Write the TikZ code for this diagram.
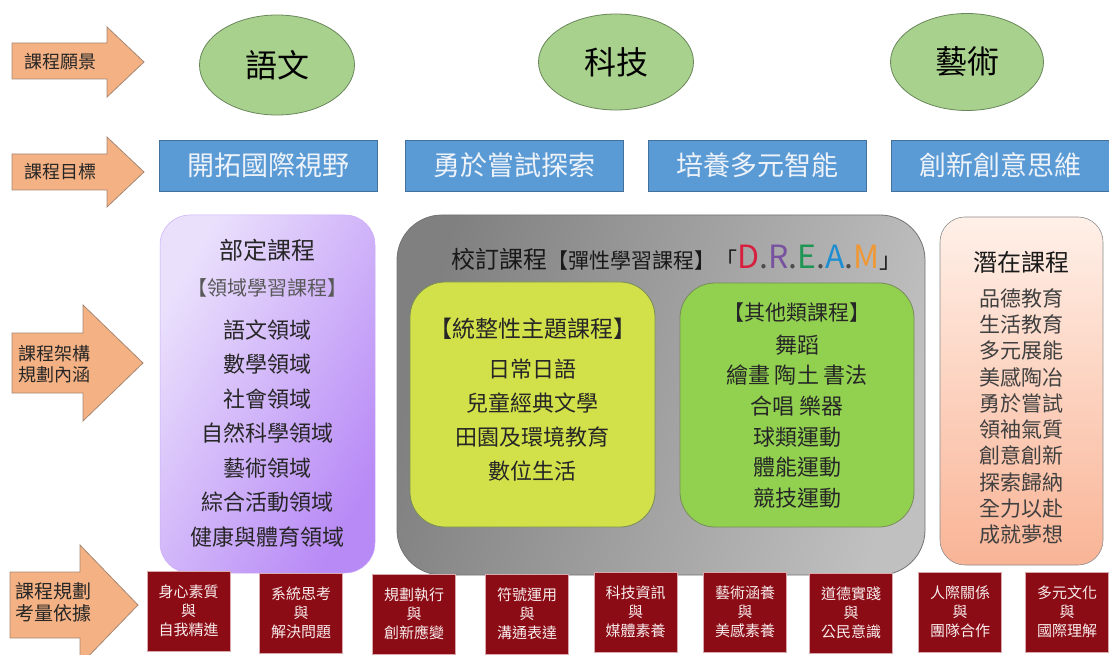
\documentclass[tikz,border=0pt]{standalone}
\usepackage{fontspec}
\setmainfont{Noto Sans CJK TC}
\usetikzlibrary{shapes.geometric}

\newcommand{\fsz}[2]{\fontsize{#1}{#2}\selectfont}

\definecolor{arrowfill}{RGB}{244,177,131}
\definecolor{arrowline}{RGB}{165,135,115}
\definecolor{visionfill}{RGB}{169,209,142}
\definecolor{visionline}{RGB}{105,135,90}
\definecolor{goalfill}{RGB}{91,155,213}
\definecolor{goalline}{RGB}{65,113,156}
\definecolor{goaltext}{RGB}{238,243,250}
\definecolor{corelight}{RGB}{234,224,252}
\definecolor{coredark}{RGB}{184,138,246}
\definecolor{schooldark}{RGB}{128,128,128}
\definecolor{schoollight}{RGB}{192,192,192}
\definecolor{themefill}{RGB}{210,224,74}
\definecolor{otherfill}{RGB}{146,208,80}
\definecolor{innerline}{RGB}{120,140,90}
\definecolor{hiddenlight}{RGB}{255,240,232}
\definecolor{hiddendark}{RGB}{249,180,150}
\definecolor{basisfill}{RGB}{140,12,22}
\definecolor{basistext}{RGB}{248,236,236}
\definecolor{dreamD}{RGB}{214,32,62}
\definecolor{dreamR}{RGB}{120,82,160}
\definecolor{dreamE}{RGB}{28,150,82}
\definecolor{dreamA}{RGB}{30,142,210}
\definecolor{dreamM}{RGB}{240,152,52}

\tikzset{
  stagearrow/.style={draw=arrowline, fill=arrowfill, line width=0.8pt},
  stagetext/.style={font=\fsz{18}{21}, align=center, text=black!85},
  vision/.style={ellipse, draw=visionline, fill=visionfill, line width=0.8pt, inner sep=0pt, font=\fsz{32}{36}},
  goal/.style={draw=goalline, fill=goalfill, minimum width=218pt, minimum height=51pt, inner sep=0pt, font=\fsz{27}{30}, text=goaltext},
  listtext/.style={align=center, text=black!85},
  basis/.style={draw=basistext!70!basisfill, fill=basisfill, minimum width=83pt, minimum height=80pt, inner sep=0pt, align=center, font=\fsz{15}{19}, text=basistext}
}

\begin{document}
\begin{tikzpicture}[x=1pt, y=-1pt]
    \useasboundingbox (0,0) rectangle (1109,655);

    % Stage arrows
    \draw[stagearrow] (12,43) -- (107,43) -- (107,27) -- (144,62) -- (107,97) -- (107,79) -- (12,79) -- cycle;
    \draw[stagearrow] (12,154) -- (107,154) -- (107,137) -- (144,172) -- (107,207) -- (107,190) -- (12,190) -- cycle;
    \draw[stagearrow] (12,333) -- (83,333) -- (83,305) -- (143,363) -- (83,421) -- (83,393) -- (12,393) -- cycle;
    \draw[stagearrow] (10,572) -- (80,572) -- (80,545) -- (138,605) -- (80,665) -- (80,638) -- (10,638) -- cycle;
    \node[stagetext] (vision) at (60,62) {課程願景};
    \node[stagetext] (goals) at (60,172) {課程目標};
    \node[stagetext] (frame) at (55,364) {課程架構\\規劃內涵};
    \node[stagetext, font=\fsz{19}{22}] (basis) at (54,602) {課程規劃\\考量依據};

    % Vision
    \node[vision, minimum width=155pt, minimum height=100pt] (lang) at (277,65) {語文};
    \node[vision, minimum width=155pt, minimum height=96pt] (tech) at (616,62) {科技};
    \node[vision, minimum width=153pt, minimum height=97pt] (arts) at (967,62) {藝術};

    % Goals
    \node[goal] (global) at (268.5,165.5) {開拓國際視野};
    \node[goal] (explore) at (514,165.5) {勇於嘗試探索};
    \node[goal] (multi) at (757,165.5) {培養多元智能};
    \node[goal] (create) at (1000,165.5) {創新創意思維};

    % Curriculum frame
    \node[draw=coredark!60!corelight, line width=0.5pt, rounded corners=30pt, minimum width=215pt, minimum height=358pt,
      left color=corelight, right color=coredark, shading angle=60] (core) at (267.5,394) {};
    \node[font=\fsz{24}{28}, text=black!85] (coreTitle) at (267.5,250) {部定課程};
    \node[font=\fsz{20}{24}, text=black!65] (coreSub) at (267.5,288) {【領域學習課程】};
    \node[listtext, font=\fsz{22}{34.5}] (coreList) at (267.5,433.5)
      {語文領域\\數學領域\\社會領域\\自然科學領域\\藝術領域\\綜合活動領域\\健康與體育領域};

    \node[draw=black!55, line width=0.8pt, rounded corners=45pt, minimum width=528pt, minimum height=360pt,
      left color=schooldark, right color=schoollight, shading angle=75] (school) at (661,395) {};
    \node[anchor=west, font=\fsz{24}{28}, text=black!90] (schoolTitle) at (448,258)
      {校訂課程{\fsz{21}{24}【彈性學習課程】}{\fsz{22}{24}「}{\fsz{32}{34}\color{dreamD}D\color{black!70}.\color{dreamR}R\color{black!70}.\color{dreamE}E\color{black!70}.\color{dreamA}A\color{black!70}.\color{dreamM}M}{\fsz{22}{24}」}};

    \node[draw=innerline, fill=themefill, line width=0.8pt, rounded corners=35pt, minimum width=245pt, minimum height=245pt] (theme) at (532.5,404.5) {};
    \node[font=\fsz{23}{26}, text=black!85] (themeTitle) at (532.5,329) {【統整性主題課程】};
    \node[listtext, font=\fsz{22}{34}] (themeList) at (532.5,420) {日常日語\\兒童經典文學\\田園及環境教育\\數位生活};

    \node[draw=innerline, fill=otherfill, line width=0.8pt, rounded corners=35pt, minimum width=234pt, minimum height=244pt] (other) at (797,405) {};
    \node[font=\fsz{21}{24}, text=black!85] (otherTitle) at (797,313) {【其他類課程】};
    \node[listtext, font=\fsz{22}{30.6}] (otherList) at (797,421.5) {舞蹈\\繪畫 陶土 書法\\合唱 樂器\\球類運動\\體能運動\\競技運動};

    \node[draw=black!45, line width=0.6pt, rounded corners=25pt, minimum width=163pt, minimum height=348pt,
      top color=hiddenlight, bottom color=hiddendark] (hidden) at (1021.5,391) {};
    \node[font=\fsz{24}{28}, text=black!90] (hiddenTitle) at (1021.5,262) {潛在課程};
    \node[listtext, font=\fsz{21}{26.3}, text=black!75] (hiddenList) at (1021.5,416.5)
      {品德教育\\生活教育\\多元展能\\美感陶冶\\勇於嘗試\\領袖氣質\\創意創新\\探索歸納\\全力以赴\\成就夢想};

    % Planning basis
    \node[basis] (b1) at (188.5,611) {身心素質\\與\\自我精進};
    \node[basis] (b2) at (301,613) {系統思考\\與\\解決問題};
    \node[basis] (b3) at (414,614) {規劃執行\\與\\創新應變};
    \node[basis] (b4) at (527,614) {符號運用\\與\\溝通表達};
    \node[basis] (b5) at (635.5,612) {科技資訊\\與\\媒體素養};
    \node[basis] (b6) at (745,612) {藝術涵養\\與\\美感素養};
    \node[basis] (b7) at (851,613) {道德實踐\\與\\公民意識};
    \node[basis] (b8) at (960,612) {人際關係\\與\\團隊合作};
    \node[basis] (b9) at (1067,612) {多元文化\\與\\國際理解};
  \end{tikzpicture}
\end{document}
